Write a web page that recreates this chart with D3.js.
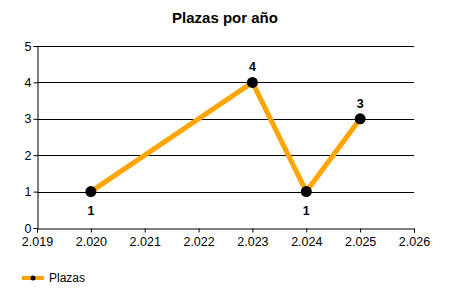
<!DOCTYPE html>
<html><head><meta charset="utf-8">
<script src="https://cdn.jsdelivr.net/npm/d3@7"></script>
<style>body{margin:0;background:#fff}svg{display:block}text{font-family:"Liberation Sans",Arial,sans-serif}</style>
</head><body><svg id="c" width="450" height="300"></svg>
<script>
const years = [2020, 2023, 2024, 2025];
const plazas = [1, 4, 1, 3];
const labelPos = ["below", "above", "below", "above"];
const xTicks = [2019, 2020, 2021, 2022, 2023, 2024, 2025, 2026];
const yTicks = [0, 1, 2, 3, 4, 5];
const title = "Plazas por año";
const seriesName = "Plazas";

const svg = d3.select("#c");
const x = d3.scaleLinear().domain([2019, 2026]).range([37, 414]);
const y = d3.scaleLinear().domain([0, 5]).range([228, 46]);
const fmt = v => d3.format(".3f")(v / 1000);

svg.append("text").attr("x", 225).attr("y", 23).attr("text-anchor", "middle")
  .attr("font-size", "15px").attr("font-weight", "bold").text(title);

// grid
svg.append("g").selectAll("line").data(yTicks.filter(d => d > 0)).join("line")
  .attr("x1", x(2019)).attr("x2", x(2026)).attr("y1", d => Math.round(y(d)) + 0.5).attr("y2", d => Math.round(y(d)) + 0.5)
  .attr("stroke", "#000").attr("stroke-width", 1);

const yAxis = d3.axisLeft(y).tickValues(yTicks).tickSize(4).tickPadding(2).tickFormat(d3.format("d"));
const gy = svg.append("g").attr("transform", `translate(${x(2019) + 0.5},0)`).call(yAxis);
gy.selectAll("text").attr("font-size", "12.5px").attr("fill", "#000");
gy.select(".domain").attr("stroke", "#000");

const xAxis = d3.axisBottom(x).tickValues(xTicks).tickSize(4).tickPadding(5).tickFormat(d => fmt(d));
const gx = svg.append("g").attr("transform", `translate(0,${Math.round(y(0)) + 0.5})`).call(xAxis);
gx.selectAll("text").attr("font-size", "12.5px").attr("fill", "#000");
gx.select(".domain").attr("stroke", "#000");

const data = years.map((yr, i) => ({yr, v: plazas[i], pos: labelPos[i]}));
svg.append("path").datum(data)
  .attr("d", d3.line().x(d => x(d.yr)).y(d => y(d.v)))
  .attr("fill", "none").attr("stroke", "#FFA500").attr("stroke-width", 5).attr("stroke-linejoin", "miter");

svg.append("g").selectAll("circle").data(data).join("circle")
  .attr("cx", d => x(d.yr)).attr("cy", d => y(d.v)).attr("r", 5.5).attr("fill", "#000");

svg.append("g").selectAll("text").data(data).join("text")
  .attr("x", d => x(d.yr)).attr("y", d => d.pos === "above" ? y(d.v) - 11 : y(d.v) + 23)
  .attr("text-anchor", "middle").attr("font-size", "12.5px").attr("font-weight", "bold").text(d => d.v);

// legend
const lg = svg.append("g");
lg.append("line").attr("x1", 22).attr("x2", 44).attr("y1", 278).attr("y2", 278).attr("stroke", "#FFA500").attr("stroke-width", 4);
lg.append("circle").attr("cx", 33).attr("cy", 278).attr("r", 2.5).attr("fill", "#000");
lg.append("text").attr("x", 49).attr("y", 282).attr("font-size", "12px").attr("fill", "#000").text(seriesName);
</script></body></html>
